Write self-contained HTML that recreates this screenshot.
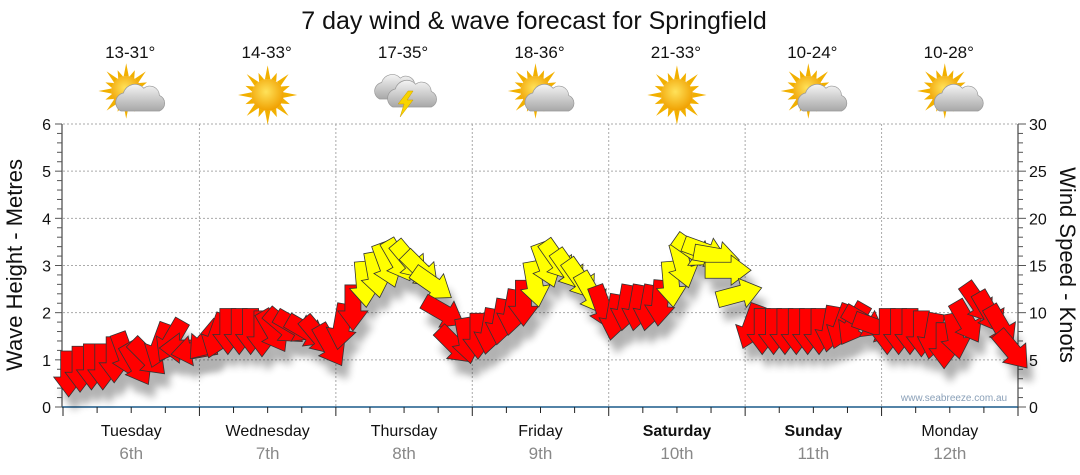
<!DOCTYPE html>
<html><head><meta charset="utf-8">
<style>
body{margin:0;background:#fff;width:1080px;height:475px;overflow:hidden;font-family:"Liberation Sans",sans-serif}
svg{display:block}
</style></head>
<body>
<svg id="chart" width="1080" height="475" xmlns="http://www.w3.org/2000/svg">
<defs>
<filter id="sh" x="-50%" y="-50%" width="200%" height="200%"><feGaussianBlur stdDeviation="4"/></filter>
<radialGradient id="sunG" cx="45%" cy="40%" r="60%"><stop offset="0" stop-color="#ffe25a"/><stop offset="1" stop-color="#f0a000"/></radialGradient>
<linearGradient id="cloudG" x1="0" y1="0" x2="0" y2="1"><stop offset="0" stop-color="#f4f4f4"/><stop offset="1" stop-color="#a8a8a8"/></linearGradient>
</defs>
<text x="534" y="29" font-size="25" text-anchor="middle" fill="#111">7 day wind &amp; wave forecast for Springfield</text>
<g id="axes"></g>
<g id="shadows" opacity="0.3"></g>
<g id="arrows"></g>
<text transform="translate(22,265) rotate(-90)" font-size="22" text-anchor="middle" fill="#111">Wave Height - Metres</text>
<text transform="translate(1060,265) rotate(90)" font-size="22" text-anchor="middle" fill="#111">Wind Speed - Knots</text>
<text x="954" y="401" font-size="10" text-anchor="middle" fill="#8aa0b8">www.seabreeze.com.au</text>
</svg>
<script>
const days=["Tuesday","Wednesday","Thursday","Friday","Saturday","Sunday","Monday"];
const dates=["6th","7th","8th","9th","10th","11th","12th"];
const temps=["13-31°","14-33°","17-35°","18-36°","21-33°","10-24°","10-28°"];
const icons=["partly","sunny","storm","partly","sunny","partly","partly"];
const waveTicks=[0,1,2,3,4,5,6];
const windTicks=[0,5,10,15,20,25,30];
const waveHeight=[0.7,0.8,0.85,0.85,1.0,1.1,0.9,1.05,1.3,1.4,1.25,1.2,
 1.4,1.5,1.6,1.6,1.6,1.55,1.6,1.7,1.7,1.6,1.5,1.3,
 1.7,2.1,2.6,2.8,3.0,3.1,3.1,2.9,2.6,2.0,1.3,1.4,
 1.5,1.6,1.8,2.0,2.2,2.6,3.0,3.1,2.9,2.7,2.4,2.1,
 1.9,2.1,2.1,2.1,2.2,2.6,3.0,3.3,3.3,3.2,2.9,2.4,
 1.7,1.6,1.6,1.6,1.6,1.6,1.6,1.65,1.7,1.75,1.8,1.7,
 1.6,1.6,1.6,1.55,1.5,1.3,1.5,1.8,2.2,2.0,1.7,1.2];
const windSpeed=[10,10,10,10,10,11,11,11,12,12,12,12,
 12,12,12,12,12,12,12,12,12,12,12,12,
 12,13,16,16,17,17,17,16,15,13,12,12,
 12,12,12,13,14,15,16,17,16,16,15,13,
 13,13,13,13,14,15,16,17,17,16,16,15,
 12,12,12,12,12,12,12,12,12,12,12,12,
 12,12,12,12,12,12,13,13,13,12,12,11];
const windDir=[180,180,180,180,180,160,150,135,200,210,270,260,
 220,200,180,180,180,180,150,130,120,120,140,150,
 190,180,175,170,160,150,140,135,125,120,135,170,
 180,190,190,190,180,170,160,145,145,145,150,160,
 190,190,190,190,185,175,165,125,110,100,90,75,
 200,180,180,180,180,180,180,190,200,210,120,110,
 180,180,180,180,190,180,170,150,145,150,150,140];
const NS="http://www.w3.org/2000/svg";
const X0=63,X1=1018,Y0=407,Y6=124;
const dayW=(X1-X0)/7;
const xs=i=>X0+(i+0.5)*dayW/12;
const yw=v=>Y0-(v/6)*(Y0-Y6);
function mk(t,a,p){const e=document.createElementNS(NS,t);for(const k in a)e.setAttribute(k,a[k]);(p||document.getElementById('axes')).appendChild(e);return e;}
waveTicks.forEach(v=>{if(v>0){const l=mk('line',{x1:X0,x2:X1,y1:yw(v),y2:yw(v),stroke:'#aaa','stroke-dasharray':'2,2'});}
 const t=mk('text',{x:51,y:yw(v)+6,'font-size':16,'text-anchor':'end',fill:'#111'});t.textContent=v;});
windTicks.forEach(v=>{const t=mk('text',{x:1029,y:Y0-(v/30)*(Y0-Y6)+6,'font-size':16,fill:'#111'});t.textContent=v;});
for(let k=1;k<7;k++){const l=mk('line',{x1:X0+k*dayW,x2:X0+k*dayW,y1:Y6,y2:Y0,stroke:'#aaa','stroke-dasharray':'2,2'});}
mk('line',{x1:X0-1,x2:X0-1,y1:Y6,y2:Y0,stroke:'#222'});
mk('line',{x1:X1,x2:X1,y1:Y6,y2:Y0,stroke:'#222'});
for(let v=0;v<=6.001;v+=0.2){const y=yw(v);const big=Math.abs(v-Math.round(v))<0.01;mk('line',{x1:big?55:57,x2:X0-1,y1:y,y2:y,stroke:'#555'});}
for(let v=0;v<=30;v+=1){const y=Y0-(v/30)*(Y0-Y6);mk('line',{x1:X1,x2:X1+(v%5==0?8:5),y1:y,y2:y,stroke:'#555'});}
mk('line',{x1:X0-1,x2:X1,y1:Y0,y2:Y0,stroke:'#1a5a8a','stroke-width':1.5});
for(let k=0;k<=28;k++){const x=X0+k*dayW/4;mk('line',{x1:x,x2:x,y1:Y0,y2:Y0+(k%4==0?9:6),stroke:'#222'});}
function sun(g,cx,cy,r){for(let a=0;a<16;a++){const ang=a*Math.PI/8;const L=(a%2?r*1.5:r*1.85);const w=0.17;
 mk('polygon',{points:`${cx+Math.cos(ang-w)*r},${cy+Math.sin(ang-w)*r} ${cx+Math.cos(ang)*L},${cy+Math.sin(ang)*L} ${cx+Math.cos(ang+w)*r},${cy+Math.sin(ang+w)*r}`,fill:'#f2b000'},g);}
 mk('circle',{cx,cy,r,fill:'url(#sunG)'},g);}
function cloud(g,cx,cy,s){mk('path',{d:`M${cx-16},${cy+10} a8,8 0 0 1 2,-15 a10,10 0 0 1 17,-4 a8,8 0 0 1 13,6 a7,7 0 0 1 0,13 z`,fill:'url(#cloudG)',stroke:'#999','stroke-width':0.6,transform:`translate(${cx},${cy}) scale(${s}) translate(${-cx},${-cy})`},g);}
function drawIcon(type,cx,cy){const g=mk('g',{});
 if(type=='sunny')sun(g,cx,cy,16);
 else if(type=='partly'){sun(g,cx-5,cy-4,15);cloud(g,cx+9,cy+4,1.2);}
 else{cloud(g,cx-7,cy-7,1.1);cloud(g,cx+8,cy,1.2);mk('polygon',{points:`${cx+4},${cy-4} ${cx-6},${cy+9} ${cx},${cy+9} ${cx-4},${cy+22} ${cx+9},${cy+5} ${cx+3},${cy+5} ${cx+9},${cy-4}`,fill:'#f8d400',stroke:'#c90','stroke-width':0.5},g);}
}
days.forEach((d,k)=>{const cx=X0+(k+0.5)*dayW;
 const t=mk('text',{x:cx,y:436,'font-size':16,'text-anchor':'middle',fill:'#111','font-weight':(k==4||k==5)?'bold':'normal'});t.textContent=d;
 const s=mk('text',{x:cx,y:459,'font-size':17,'text-anchor':'middle',fill:'#888'});s.textContent=dates[k];
 const tt=mk('text',{x:cx-1,y:58,'font-size':17,'text-anchor':'middle',fill:'#111'});tt.textContent=temps[k];
 drawIcon(icons[k],cx,95);
});
const arrG=document.getElementById('arrows'),shG=document.getElementById('shadows');
const AP="M-8,-23 L8,-23 L8,3 L15,3 L0,23 L-15,3 L-8,3 Z";
waveHeight.forEach((h,i)=>{const x=xs(i),y=yw(h);const rot=windDir[i]-180;
 mk('path',{d:AP,fill:'#000',filter:'url(#sh)',transform:`translate(${x+6},${y+14}) rotate(${rot})`},shG);
 const a=mk('path',{d:AP,fill:windSpeed[i]>=15?'#ffff00':'#ff0000',stroke:'#333','stroke-width':0.8,transform:`translate(${x},${y}) rotate(${rot})`},arrG);
 
 
});
</script>
</body></html>
